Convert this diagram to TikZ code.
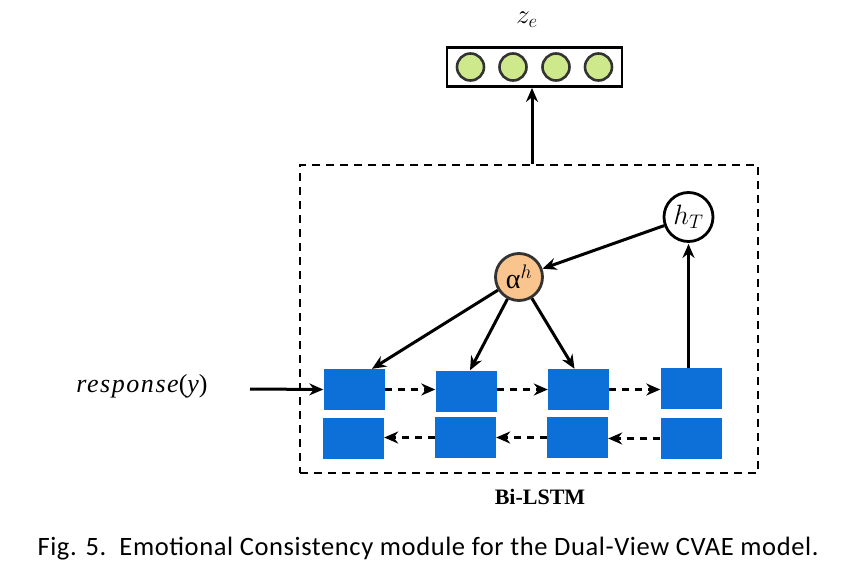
\RequirePackage{fix-cm}
\documentclass[tikz,border=0pt]{standalone}
\usepackage{fontspec}
\setmainfont{Liberation Serif}
\newfontfamily\capfont[LetterSpace=2.3]{Carlito}
\newfontfamily\respfont[LetterSpace=6]{Liberation Serif Italic}
\newfontfamily\respup[LetterSpace=6]{Liberation Serif}
\usetikzlibrary{arrows.meta}
\definecolor{lstmblue}{HTML}{0D6FD8}
\definecolor{zgreen}{HTML}{CDE98C}
\definecolor{aorange}{HTML}{FAC48F}
\definecolor{ringgray}{HTML}{333333}
\tikzset{
  x=1pt,y=-1pt,
  cell/.style={fill=lstmblue,draw=none,minimum width=61pt,minimum height=41pt,inner sep=0pt},
  zdot/.style={circle,fill=zgreen,draw=ringgray,line width=2.6pt,minimum size=27pt,inner sep=0pt},
  arr/.style={line width=3pt,-{Stealth[length=14pt,width=12pt]}},
  darr/.style={line width=3pt,dash pattern=on 7pt off 6pt,-{Stealth[length=14pt,width=12pt]}},
}
\begin{document}
\begin{tikzpicture}
\useasboundingbox (0,0) rectangle (847,575);
% z_e
\node (zl) at (527,20) {\fontsize{27}{30}\selectfont $z_e$};
\node[draw,line width=2.8pt,minimum width=175pt,minimum height=39pt,inner sep=0pt] (zbox) at (534.5,67) {};
\node[zdot] (z1) at (470.5,67) {};
\node[zdot] (z2) at (513,67) {};
\node[zdot] (z3) at (556,67) {};
\node[zdot] (z4) at (598.5,67) {};
% dashed frame
\node[draw,line width=2.6pt,dash pattern=on 8pt off 6pt,minimum width=458pt,minimum height=308pt,inner sep=0pt] (frame) at (529,319) {};
\node (bl) at (540,497) {\fontsize{22}{26}\selectfont\bfseries Bi-LSTM};
% cells
\node[cell] (f1) at (354,389.5) {};
\node[cell] (f2) at (466,391) {};
\node[cell] (f3) at (578.5,389.5) {};
\node[cell] (f4) at (691,388.5) {};
\node[cell] (b1) at (353.5,438) {};
\node[cell] (b2) at (465.5,437.5) {};
\node[cell] (b3) at (577.5,437.5) {};
\node[cell] (b4) at (691,438.5) {};
% attention & h_T
\node[circle,fill=aorange,draw=ringgray,line width=2.8pt,minimum size=47pt,inner sep=0pt] (al) at (519,277) {\fontsize{28}{32}\selectfont α$^{h}$};
\node[circle,fill=white,draw=black,line width=2.8pt,minimum size=49pt,inner sep=0pt] (hT) at (688.5,217) {\fontsize{28}{32}\selectfont $h_T$};
% input
\node (resp) at (142,386) {\fontsize{26}{30}\selectfont\respfont response\respup(\respfont y\respup)};
\coordinate (rin) at (250,389);
\coordinate (fu) at ([xshift=-2.5pt]frame.north-|zbox.south);
% connectors
\draw[arr] (rin) -- (f1.west);
\draw[darr] (f1.east) -- (f2.west|-f1.east);
\draw[darr] (f2.east|-f3.east) -- (f3.west);
\draw[darr] (f3.east) -- (f4.west|-f3.east);
\draw[darr] (b4.west) -- (b3.east|-b4.west);
\draw[darr] (b3.west) -- (b2.east|-b3.west);
\draw[darr] (b2.west) -- (b1.east|-b2.west);
\draw[arr] (al) -- ([xshift=18pt]f1.north);
\draw[arr] (al) -- ([xshift=4pt]f2.north);
\draw[arr] (al) -- ([xshift=-4pt]f3.north);
\draw[arr] ([xshift=-2.5pt]f4.north) -- ([xshift=-2.5pt,yshift=-1pt]f4.north|-hT.south);
\draw[arr] (hT) -- (al);
\draw[arr] (fu) -- (fu|-zbox.south);
% caption
\node[anchor=west] (cap) at (34,549) {\capfont\fontsize{26.5}{30}\selectfont Fig. 5.\ \ Emotional Consistency module for the Dual-View CVAE model.};
\end{tikzpicture}
\end{document}
